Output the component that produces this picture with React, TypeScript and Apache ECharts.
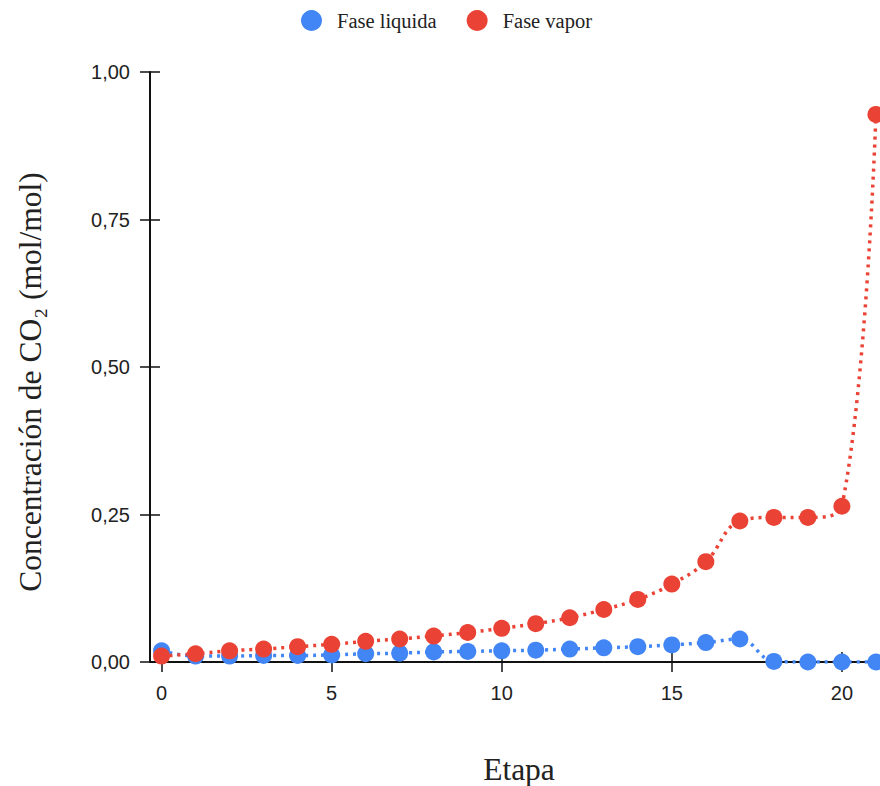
import React, { useEffect, useRef } from "react";
import * as echarts from "echarts";

const stages = [0, 1, 2, 3, 4, 5, 6, 7, 8, 9, 10, 11, 12, 13, 14, 15, 16, 17, 18, 19, 20, 21];
const liquidPhase = [0.019, 0.010, 0.010, 0.011, 0.011, 0.012, 0.014, 0.015, 0.017, 0.018, 0.019, 0.020, 0.022, 0.024, 0.026, 0.029, 0.033, 0.039, 0.001, 0.000, 0.000, 0.000];
const vaporPhase = [0.010, 0.014, 0.019, 0.022, 0.026, 0.030, 0.035, 0.039, 0.044, 0.050, 0.057, 0.065, 0.075, 0.089, 0.106, 0.132, 0.170, 0.239, 0.245, 0.245, 0.264, 0.928];
const seriesNames = ["Fase liquida", "Fase vapor"];
const xTickValues = [0, 5, 10, 15, 20];
const yTickValues = [0, 0.25, 0.5, 0.75, 1];
const xTitle = "Etapa";
const yTitle = "Concentración de CO₂ (mol/mol)";

export default function App() {
  const ref = useRef<HTMLDivElement>(null);

  useEffect(() => {
    if (!ref.current) return;
    const chart = echarts.init(ref.current, null, { renderer: "svg" });
    const axisColor = "#111";
    const labelColor = "#222";
    const sans = "Liberation Sans, Arial, sans-serif";
    const serif = "Liberation Serif, Times New Roman, serif";
    const xMin = -0.34;
    const xMax = 21.12;
    const tickLine = { color: axisColor, width: 1.5 };

    const xBase = {
      type: "value",
      min: xMin,
      max: xMax,
      splitLine: { show: false },
    };
    const yBase = {
      type: "value",
      min: 0,
      max: 1,
      interval: 0.25,
      splitLine: { show: false },
    };

    chart.setOption({
      animation: false,
      grid: { left: 150, right: 0, top: 72, bottom: 124 },
      legend: {
        left: 296,
        top: 5,
        icon: "circle",
        itemWidth: 21,
        itemHeight: 21,
        itemGap: 30,
        data: seriesNames,
        textStyle: {
          fontFamily: serif,
          fontSize: 20.5,
          color: "#222",
          padding: [0, 0, 0, 10],
        },
      },
      xAxis: [
        {
          ...xBase,
          position: "bottom",
          axisLine: { onZero: false, lineStyle: { color: axisColor, width: 2 } },
          axisTick: { customValues: xTickValues, length: 10, lineStyle: tickLine },
          axisLabel: {
            customValues: xTickValues,
            margin: 21,
            fontSize: 20,
            fontFamily: sans,
            color: labelColor,
          },
        },
        {
          ...xBase,
          position: "bottom",
          axisLine: { show: false, onZero: false },
          axisTick: { customValues: xTickValues, inside: true, length: 10, lineStyle: tickLine },
          axisLabel: { show: false },
        },
      ],
      yAxis: [
        {
          ...yBase,
          position: "left",
          axisLine: { show: true, onZero: false, lineStyle: { color: axisColor, width: 2 } },
          axisTick: { show: true, length: 10, lineStyle: tickLine },
          axisLabel: {
            margin: 20,
            fontSize: 20,
            fontFamily: sans,
            color: labelColor,
            formatter: (v: number) => (yTickValues.includes(v) ? v.toFixed(2).replace(".", ",") : ""),
          },
        },
        {
          ...yBase,
          position: "left",
          axisLine: { show: false, onZero: false },
          axisTick: { show: true, inside: true, length: 10, lineStyle: tickLine },
          axisLabel: { show: false },
        },
      ],
      graphic: [
        {
          type: "text",
          x: 30,
          y: 382,
          rotation: Math.PI / 2,
          style: {
            text: yTitle,
            fontSize: 31.5,
            fontFamily: serif,
            fill: "#222",
            align: "center",
            verticalAlign: "middle",
          },
        },
        {
          type: "text",
          x: 519,
          y: 769,
          style: {
            text: xTitle,
            fontSize: 31.5,
            fontFamily: serif,
            fill: "#222",
            align: "center",
            verticalAlign: "middle",
          },
        },
      ],
      series: [
        {
          name: seriesNames[0],
          type: "line",
          xAxisIndex: 0,
          yAxisIndex: 0,
          data: stages.map((s, i) => [s, liquidPhase[i]]),
          symbol: "circle",
          symbolSize: 17,
          smooth: 0.4,
          itemStyle: { color: "#4285F4" },
          lineStyle: { color: "#4285F4", width: 3.5, type: [3, 5] },
        },
        {
          name: seriesNames[1],
          type: "line",
          xAxisIndex: 0,
          yAxisIndex: 0,
          data: stages.map((s, i) => [s, vaporPhase[i]]),
          symbol: "circle",
          symbolSize: 17,
          smooth: 0.4,
          itemStyle: { color: "#EA4335" },
          lineStyle: { color: "#EA4335", width: 3.5, type: [3, 5] },
        },
      ],
    });
    return () => chart.dispose();
  }, []);

  return (
    <div
      ref={ref}
      style={{ position: "absolute", left: 0, top: 0, width: 880, height: 786, background: "#fff" }}
    />
  );
}
